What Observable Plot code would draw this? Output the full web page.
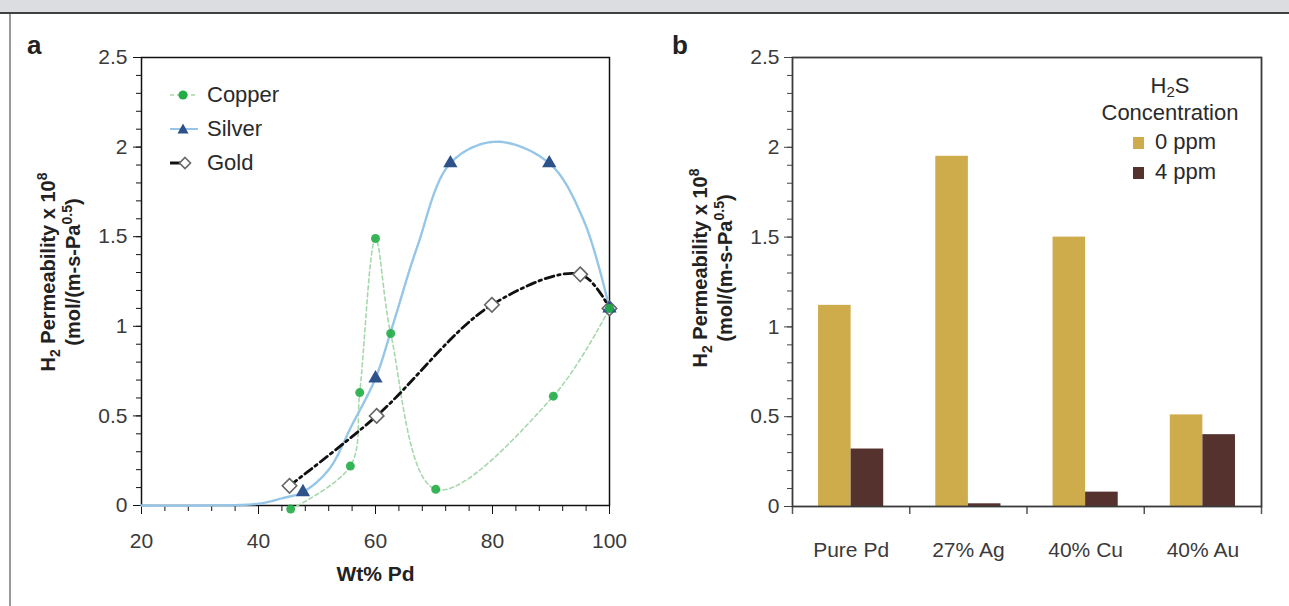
<!DOCTYPE html>
<html><head><meta charset="utf-8">
<script src="https://cdn.jsdelivr.net/npm/d3@7"></script>
<script src="https://cdn.jsdelivr.net/npm/@observablehq/plot@0.6"></script>
<style>
body{margin:0;background:#fff;}
#root{position:relative;width:1289px;height:606px;overflow:hidden;background:#fff;font-family:"Liberation Sans",Arial,Helvetica,sans-serif;color:#333;}
.abs{position:absolute;white-space:nowrap;}
.lg{font-size:22px;line-height:27px;color:#2a2a2a;}
</style></head><body><div id="root"></div>
<script>
// ---------- Panel a data (Wt% Pd vs H2 permeability x 1e8) ----------
const copperWt   = [45.5, 55.7, 57.3, 60.0, 62.6, 70.3, 90.4, 100];
const copperPerm = [-0.02, 0.22, 0.63, 1.49, 0.96, 0.09, 0.61, 1.10];
const silverWt   = [47.6, 60.0, 72.8, 89.7, 100];
const silverPerm = [0.075, 0.71, 1.91, 1.91, 1.10];
const goldWt     = [45.3, 60.2, 79.9, 95.0, 100];
const goldPerm   = [0.11, 0.50, 1.12, 1.29, 1.10];
// silver fitted curve as drawn
const silverFitWt   = [20, 30, 40, 44, 47.6, 52, 56, 60, 62.8, 67.1, 72.8, 80.5, 89.7, 95.6, 100];
const silverFitPerm = [0, 0, 0.01, 0.04, 0.075, 0.20, 0.45, 0.71, 0.99, 1.44, 1.91, 2.03, 1.91, 1.59, 1.10];
const xMajorTicksA = [20, 40, 60, 80, 100];
const xMinorTicksA = [20,24,28,32,36,40,44,48,52,56,60,64,68,72,76,80,84,88,92,96,100];
const yMajorTicks = [0, 0.5, 1, 1.5, 2, 2.5];
const yMinorTicks = [0,0.1,0.2,0.3,0.4,0.5,0.6,0.7,0.8,0.9,1,1.1,1.2,1.3,1.4,1.5,1.6,1.7,1.8,1.9,2,2.1,2.2,2.3,2.4,2.5];

// ---------- Panel b data ----------
const alloys   = ["Pure Pd", "27% Ag", "40% Cu", "40% Au"];
const perm0ppm = [1.12, 1.95, 1.50, 0.51];
const perm4ppm = [0.32, 0.015, 0.08, 0.40];
const h2sLevels = ["0 ppm", "4 ppm"];

const colCopper = "#23ad47", colCopperLine = "#a6d8ab";
const colSilver = "#2d5289", colSilverLine = "#95c6e8";
const col0 = "#cfac4b", col4 = "#55322d";

const pts = (xs, ys) => xs.map((x, i) => ({x, y: ys[i]}));
const root = document.getElementById("root");
const baseStyle = {background: "transparent", fontFamily: '"Liberation Sans",Arial,Helvetica,sans-serif', fontSize: "21px", color: "#3a3a3a", overflow: "visible"};

// ---------- Panel a ----------
const plotA = Plot.plot({
  width: 660, height: 606,
  marginLeft: 141, marginRight: 51, marginTop: 57, marginBottom: 101,
  x: {domain: [20, 100]},
  y: {domain: [0, 2.5]},
  style: baseStyle,
  marks: [
    Plot.axisY({ticks: yMinorTicks, tickSize: 5, fill: "none", stroke: "#111"}),
    Plot.axisY({ticks: yMajorTicks, tickSize: 8, tickPadding: 6, tickFormat: d => String(d), label: null, stroke: "#111"}),
    Plot.axisX({ticks: xMinorTicksA, tickSize: 6, fill: "none", stroke: "#111"}),
    Plot.axisX({ticks: xMajorTicksA, tickSize: 9, tickPadding: 19, tickFormat: d => String(d), label: null, stroke: "#111"}),
    Plot.frame({stroke: "#111", strokeWidth: 1.5}),
    Plot.line(pts(copperWt, copperPerm), {x: "x", y: "y", curve: "catmull-rom", stroke: colCopperLine, strokeWidth: 1.6, strokeDasharray: "4,3"}),
    Plot.line(pts(silverFitWt, silverFitPerm), {x: "x", y: "y", curve: "catmull-rom", stroke: colSilverLine, strokeWidth: 2.4, strokeDasharray: "2.2,1.3"}),
    Plot.line(pts(goldWt, goldPerm), {x: "x", y: "y", curve: "catmull-rom", stroke: "#111", strokeWidth: 2.8, strokeDasharray: "9,4,2.5,4"}),
    Plot.dot(pts(goldWt, goldPerm), {x: "x", y: "y", r: 6.5, symbol: "diamond2", fill: "white", stroke: "#666", strokeWidth: 1.6}),
    Plot.dot(pts(silverWt, silverPerm), {x: "x", y: "y", r: 5.3, symbol: "triangle", fill: colSilver, stroke: "none"}),
    Plot.dot(pts(copperWt, copperPerm), {x: "x", y: "y", r: 4.5, fill: colCopper, stroke: "none", fillOpacity: 0.9}),
    Plot.text(["Wt% Pd"], {frameAnchor: "bottom", dy: 75, fontWeight: "bold", fontSize: 21, fill: "#222"})
  ]
});

// ---------- Panel b ----------
const barHalf = 0.278;
const plotB = Plot.plot({
  width: 629, height: 606,
  marginLeft: 132, marginRight: 28, marginTop: 57, marginBottom: 100,
  x: {domain: [0, alloys.length]},
  y: {domain: [0, 2.5]},
  style: baseStyle,
  marks: [
    Plot.axisY({ticks: yMinorTicks, tickSize: 5, fill: "none", stroke: "#444"}),
    Plot.axisY({ticks: yMajorTicks, tickSize: 8, tickPadding: 5, tickFormat: d => String(d), label: null, stroke: "#444"}),
    Plot.axisX({ticks: d3.range(alloys.length + 1), tickSize: 8, fill: "none", stroke: "#555", strokeWidth: 1.5}),
    Plot.axisX({ticks: alloys.map((a, i) => i + 0.5), tickSize: 0, tickPadding: 36, tickFormat: t => alloys[Math.floor(t)], label: null}),
    Plot.rectY(alloys, {x1: (d, i) => i + 0.5 - barHalf, x2: (d, i) => i + 0.5, y: (d, i) => perm0ppm[i], fill: col0}),
    Plot.rectY(alloys, {x1: (d, i) => i + 0.5, x2: (d, i) => i + 0.5 + barHalf, y: (d, i) => perm4ppm[i], fill: col4}),
    Plot.frame({stroke: "#3a3a3a", strokeWidth: 1.8})
  ]
});

function yTitle(svg, x1, x2, cy) {
  const s = d3.select(svg);
  const t1 = s.append("text").attr("transform", `translate(${x1},${cy}) rotate(-90)`)
    .attr("text-anchor", "middle").attr("font-weight", "bold").attr("font-size", 20).attr("fill", "#222");
  t1.append("tspan").text("H");
  t1.append("tspan").attr("font-size", 14).attr("dy", 5).text("2");
  t1.append("tspan").attr("dy", -5).text(" Permeability x 10");
  t1.append("tspan").attr("font-size", 14).attr("dy", -8).text("8");
  const t2 = s.append("text").attr("transform", `translate(${x2},${cy}) rotate(-90)`)
    .attr("text-anchor", "middle").attr("font-weight", "bold").attr("font-size", 20).attr("fill", "#222");
  t2.append("tspan").text("(mol/(m-s-Pa");
  t2.append("tspan").attr("font-size", 14).attr("dy", -8).text("0.5");
  t2.append("tspan").attr("dy", 8).text(")");
}
yTitle(plotA, 55, 80, 272);
yTitle(plotB, 47, 72, 268);

function place(el, left, top) {
  const d = document.createElement("div");
  d.className = "abs"; d.style.left = left + "px"; d.style.top = top + "px";
  d.appendChild(el); root.appendChild(d); return d;
}
place(plotA, 0, 0);
place(plotB, 660, 0);

function html(left, top, inner, cls, extra) {
  const d = document.createElement("div");
  d.className = "abs " + (cls || ""); d.style.left = left + "px"; d.style.top = top + "px";
  if (extra) Object.assign(d.style, extra);
  d.innerHTML = inner; root.appendChild(d); return d;
}
// frame decorations
html(0, 0, "", "", {width: "1289px", height: "12px", background: "#dcdde0", borderBottom: "2px solid #404040"});
html(9, 14, "", "", {width: "2px", height: "600px", background: "#9a9a9a"});
// panel letters
html(27, 30, "a", "", {fontSize: "26px", fontWeight: "bold", color: "#222", lineHeight: "30px"});
html(672, 30, "b", "", {fontSize: "26px", fontWeight: "bold", color: "#222", lineHeight: "30px"});

// legend a
const legA = ["Copper", "Silver", "Gold"];
const legAicons = [
  `<svg width="32" height="20"><line x1="2" x2="30" y1="10" y2="10" stroke="${colCopperLine}" stroke-width="1.6" stroke-dasharray="4,3"/><circle cx="15" cy="10" r="4.6" fill="${colCopper}"/></svg>`,
  `<svg width="32" height="20"><line x1="2" x2="30" y1="10" y2="10" stroke="${colSilverLine}" stroke-width="2"/><path d="M15,4.5 L20.5,14.5 L9.5,14.5 Z" fill="${colSilver}"/></svg>`,
  `<svg width="32" height="20"><line x1="2" x2="12" y1="10" y2="10" stroke="#111" stroke-width="3"/><path d="M17,4.5 L22.5,10 L17,15.5 L11.5,10 Z" fill="white" stroke="#666" stroke-width="1.6"/></svg>`
];
const legAcy = [95, 129, 163];
legA.forEach((name, i) => {
  html(168, legAcy[i] - 10, legAicons[i], "", {lineHeight: "0"});
  html(207, legAcy[i] + 7 - 21, name, "lg");
});

// legend b
html(1099, 72, "H<sub style='font-size:15px;vertical-align:-4px;line-height:0'>2</sub>S<br>Concentration", "lg", {width: "142px", textAlign: "center"});
const legBcols = [col0, col4];
h2sLevels.forEach((lv, i) => {
  html(1133, 137 + 30 * i, "", "", {width: "11px", height: "12px", background: legBcols[i]});
  html(1155, 128 + 30 * i, lv, "lg");
});
</script></body></html>
